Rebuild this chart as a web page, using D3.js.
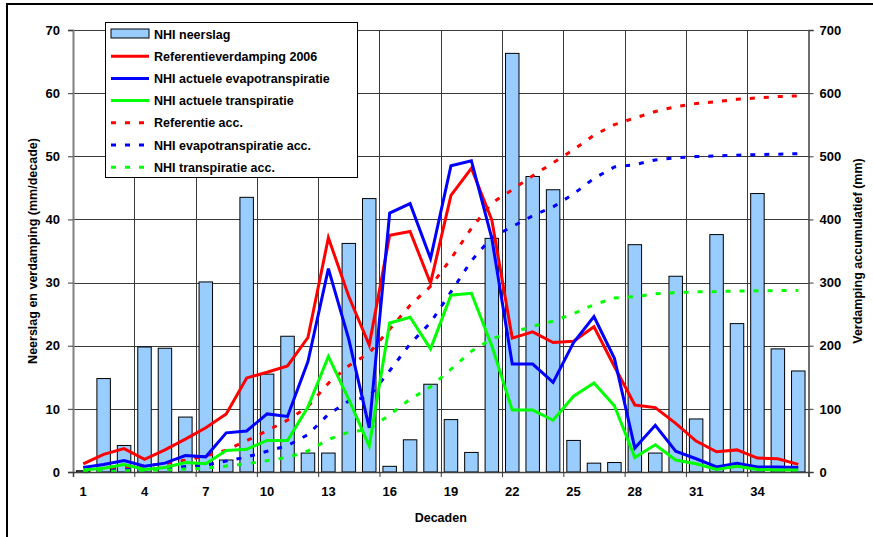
<!DOCTYPE html>
<html>
<head>
<meta charset="utf-8">
<script src="https://cdn.jsdelivr.net/npm/d3@7"></script>
<style>
  html, body { margin: 0; padding: 0; background: #fff; }
  svg { display: block; font-family: "Liberation Sans", Arial, sans-serif; }
  text { font-weight: bold; fill: #000; }
</style>
</head>
<body>
<svg id="chart" width="873" height="537"></svg>
<script>
// Decades of the year 2006
const decades = d3.range(1, 37);

// Precipitation per decade (mm/decade)
const neerslag = [0.2, 14.8, 4.2, 19.8, 19.6, 8.7, 30.1, 1.9, 43.5, 15.5, 21.5, 3.0,
  3.0, 36.2, 43.3, 0.9, 5.1, 13.9, 8.3, 3.1, 37.0, 66.3, 46.8, 44.7,
  5.0, 1.4, 1.5, 36.0, 3.0, 31.0, 8.4, 37.6, 23.5, 44.1, 19.5, 16.0];

// Reference evaporation 2006 (mm/decade)
const referentie = [1.3, 2.8, 3.7, 2.0, 3.5, 5.2, 7.0, 9.2, 14.9, 15.8, 16.8, 21.3,
  37.1, 27.8, 20.1, 37.5, 38.1, 29.9, 43.8, 48.1, 39.9, 21.2, 22.2, 20.5,
  20.7, 23.0, 16.7, 10.6, 10.2, 7.7, 4.9, 3.2, 3.5, 2.2, 2.1, 1.2];

// Actual evapotranspiration (mm/decade)
const evapotranspiratie = [0.7, 1.2, 1.8, 0.9, 1.4, 2.6, 2.4, 6.2, 6.5, 9.2, 8.8, 17.5,
  32.2, 21.0, 7.0, 41.0, 42.5, 33.8, 48.5, 49.3, 37.0, 17.1, 17.1, 14.2,
  20.5, 24.6, 18.0, 3.8, 7.4, 3.3, 2.1, 0.8, 1.4, 0.8, 0.8, 0.7];

// Actual transpiration (mm/decade)
const transpiratie = [0.3, 0.6, 1.2, 0.4, 0.7, 1.5, 1.3, 3.4, 3.6, 5.0, 5.0, 10.3,
  18.3, 11.5, 4.1, 23.6, 24.5, 19.5, 28.0, 28.3, 20.0, 9.8, 9.8, 8.2,
  12.0, 14.1, 10.5, 2.3, 4.3, 1.9, 1.3, 0.4, 0.9, 0.4, 0.3, 0.3];

// Accumulated totals (mm)
const referentieAcc = [1.3, 4.1, 7.8, 9.8, 13.3, 18.5, 25.5, 34.7, 49.6, 65.4, 82.2, 103.5,
  140.6, 168.4, 188.5, 226.0, 264.1, 294.0, 337.8, 385.9, 425.8, 447.0, 469.2, 489.7,
  510.4, 533.4, 550.1, 560.7, 570.9, 578.6, 583.5, 586.7, 590.2, 592.4, 594.5, 595.7];
const evapotranspiratieAcc = [0.7, 1.9, 3.7, 4.6, 6.0, 8.6, 11.0, 17.2, 23.7, 32.9, 41.7, 59.2,
  91.4, 112.4, 119.4, 160.4, 202.9, 236.7, 285.2, 334.5, 371.5, 388.6, 405.7, 419.9,
  440.4, 465.0, 483.0, 486.8, 494.2, 497.5, 499.6, 500.4, 501.8, 502.6, 503.4, 504.1];
const transpiratieAcc = [0.3, 0.9, 2.1, 2.5, 3.2, 4.7, 6.0, 9.4, 13.0, 18.0, 23.0, 33.3,
  51.6, 63.1, 67.2, 90.8, 115.3, 134.8, 162.8, 191.1, 211.1, 220.9, 230.7, 238.9,
  250.9, 265.0, 275.5, 277.8, 282.1, 284.0, 285.3, 285.7, 286.6, 287.0, 287.3, 287.6];

// Tick values
const leftTicks = [0, 10, 20, 30, 40, 50, 60, 70];
const rightTicks = [0, 100, 200, 300, 400, 500, 600, 700];
const xTickLabels = [1, 4, 7, 10, 13, 16, 19, 22, 25, 28, 31, 34];

const legendItems = [
  { label: "NHI neerslag", type: "bar" },
  { label: "Referentieverdamping 2006", type: "line", color: "#FF0000" },
  { label: "NHI actuele evapotranspiratie", type: "line", color: "#0000FF" },
  { label: "NHI actuele transpiratie", type: "line", color: "#00FF00" },
  { label: "Referentie acc.", type: "dash", color: "#FF0000" },
  { label: "NHI evapotranspiratie acc.", type: "dash", color: "#0000FF" },
  { label: "NHI transpiratie acc.", type: "dash", color: "#00FF00" }
];

const svg = d3.select("#chart");
const W = 873, H = 537;
const plot = { left: 73, right: 808.5, top: 30, bottom: 472 };

// Outer frame
svg.append("rect")
  .attr("x", 7).attr("y", 4).attr("width", W).attr("height", H)
  .attr("fill", "#fff").attr("stroke", "#000").attr("stroke-width", 2);

const x = d3.scaleBand()
  .domain(decades)
  .range([plot.left, plot.right])
  .paddingInner(0.34)
  .paddingOuter(0.17);
const cx = d => x(d) + x.bandwidth() / 2;

// Category boundaries (every third decade carries a tick / gridline)
const xb = d3.scaleLinear().domain([0, 36]).range([plot.left, plot.right]);

const yL = d3.scaleLinear().domain([0, 70]).range([plot.bottom, plot.top]);
const yR = d3.scaleLinear().domain([0, 700]).range([plot.bottom, plot.top]);

// Gridlines
const grid = svg.append("g").attr("stroke", "#3a3a3a").attr("stroke-width", 1);
grid.selectAll("line.h").data(leftTicks.filter(t => t > 0)).join("line")
  .attr("class", "h")
  .attr("x1", plot.left).attr("x2", plot.right)
  .attr("y1", d => Math.round(yL(d)) + 0.5).attr("y2", d => Math.round(yL(d)) + 0.5);
grid.selectAll("line.v").data(d3.range(3, 36, 3)).join("line")
  .attr("class", "v")
  .attr("y1", plot.top).attr("y2", plot.bottom)
  .attr("x1", d => Math.round(xb(d)) + 0.5).attr("x2", d => Math.round(xb(d)) + 0.5);

// Precipitation bars
svg.append("g").selectAll("rect").data(decades).join("rect")
  .attr("x", d => x(d))
  .attr("width", x.bandwidth())
  .attr("y", (d, i) => yL(neerslag[i]))
  .attr("height", (d, i) => plot.bottom - yL(neerslag[i]))
  .attr("fill", "#99CCFF")
  .attr("stroke", "#000")
  .attr("stroke-width", 1);

// Accumulated series (right axis), dashed
const accLine = d3.line().x((d, i) => cx(decades[i])).y(d => yR(d));
[[referentieAcc, "#FF0000"], [evapotranspiratieAcc, "#0000FF"], [transpiratieAcc, "#00FF00"]]
  .forEach(([data, color]) => {
    svg.append("path")
      .datum(data)
      .attr("d", accLine)
      .attr("fill", "none")
      .attr("stroke", color)
      .attr("stroke-width", 3)
      .attr("stroke-dasharray", "5,9");
  });

// Per-decade series (left axis), solid
const decLine = d3.line().x((d, i) => cx(decades[i])).y(d => yL(d));
[[referentie, "#FF0000"], [evapotranspiratie, "#0000FF"], [transpiratie, "#00FF00"]]
  .forEach(([data, color]) => {
    svg.append("path")
      .datum(data)
      .attr("d", decLine)
      .attr("fill", "none")
      .attr("stroke", color)
      .attr("stroke-width", 3)
      .attr("stroke-linejoin", "miter");
  });

// Left axis
const axL = svg.append("g")
  .attr("transform", `translate(${plot.left},0)`)
  .call(d3.axisLeft(yL).tickValues(leftTicks).tickSize(5).tickPadding(8));
axL.select(".domain").attr("stroke", "#808080").attr("stroke-width", 2);
axL.selectAll(".tick line").attr("stroke", "#3a3a3a");
axL.selectAll("text").attr("font-size", 13).attr("font-weight", "bold")
  .attr("font-family", "Liberation Sans, Arial, sans-serif");

// Right axis
const axR = svg.append("g")
  .attr("transform", `translate(${plot.right},0)`)
  .call(d3.axisRight(yR).tickValues(rightTicks).tickSize(5).tickPadding(6));
axR.select(".domain").attr("stroke", "#404040").attr("stroke-width", 1.5);
axR.selectAll(".tick line").attr("stroke", "#3a3a3a");
axR.selectAll("text").attr("font-size", 13).attr("font-weight", "bold")
  .attr("font-family", "Liberation Sans, Arial, sans-serif");

// Bottom axis: tick marks at boundaries, labels at decade centres
const axB = svg.append("g")
  .attr("transform", `translate(0,${plot.bottom})`)
  .call(d3.axisBottom(xb).tickValues(d3.range(0, 37, 3)).tickSize(5).tickFormat(""));
axB.select(".domain").attr("stroke", "#404040").attr("stroke-width", 1.5);
axB.selectAll(".tick line").attr("stroke", "#3a3a3a");

const axBL = svg.append("g")
  .attr("transform", `translate(0,${plot.bottom})`)
  .call(d3.axisBottom(x).tickValues(xTickLabels).tickSize(0).tickPadding(15));
axBL.select(".domain").remove();
axBL.selectAll("text").attr("font-size", 13).attr("font-weight", "bold")
  .attr("font-family", "Liberation Sans, Arial, sans-serif");

// Axis titles
svg.append("text")
  .attr("x", (plot.left + plot.right) / 2).attr("y", 522)
  .attr("text-anchor", "middle").attr("font-size", 12.5)
  .text("Decaden");
svg.append("text")
  .attr("transform", `translate(37,${(plot.top + plot.bottom) / 2}) rotate(-90)`)
  .attr("text-anchor", "middle").attr("font-size", 12.5)
  .text("Neerslag en verdamping (mm/decade)");
svg.append("text")
  .attr("transform", `translate(862,${(plot.top + plot.bottom) / 2}) rotate(-90)`)
  .attr("text-anchor", "middle").attr("font-size", 12.5)
  .text("Verdamping accumulatief (mm)");

// Legend
const lg = svg.append("g");
lg.append("rect")
  .attr("x", 105.5).attr("y", 22.5).attr("width", 252).attr("height", 155)
  .attr("fill", "#fff").attr("stroke", "#000").attr("stroke-width", 1);
const rowY = i => 34 + i * 22.2;
legendItems.forEach((item, i) => {
  const yy = rowY(i);
  if (item.type === "bar") {
    lg.append("rect").attr("x", 111).attr("y", yy - 5).attr("width", 38).attr("height", 9)
      .attr("fill", "#99CCFF").attr("stroke", "#000").attr("stroke-width", 1);
  } else {
    lg.append("line").attr("x1", 111).attr("x2", 149).attr("y1", yy).attr("y2", yy)
      .attr("stroke", item.color)
      .attr("stroke-width", 3)
      .attr("stroke-dasharray", item.type === "dash" ? "5,9" : null);
  }
  lg.append("text").attr("x", 154).attr("y", yy + 4.5)
    .attr("font-size", 12.5).text(item.label);
});
</script>
</body>
</html>
